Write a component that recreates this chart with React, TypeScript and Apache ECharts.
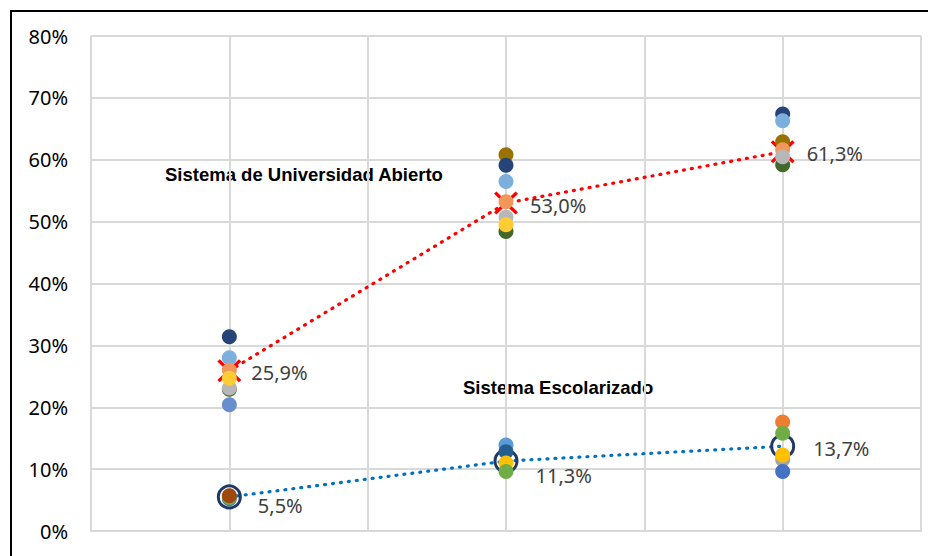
import React, { useEffect, useRef } from "react";
import * as echarts from "echarts";

// Category positions (three groups along the x axis)
const xPos = [1, 2, 3];

// Averages
const suaMean = [0.259, 0.53, 0.613];
const seMean = [0.055, 0.113, 0.137];

// Sistema de Universidad Abierto – individual points (null = hidden / not visible)
const suaDarkGold = [null, 0.608, 0.629];
const suaDarkBlue = [0.314, 0.591, 0.674];
const suaDarkGreen = [0.229, 0.484, 0.592];
const suaBlue = [0.204, null, null];
const suaLightBlue = [0.28, 0.565, 0.663];
const suaOrange = [0.26, 0.532, 0.616];
const suaGray = [0.231, 0.507, 0.605];
const suaYellow = [0.247, 0.495, null];

// Sistema Escolarizado – individual points
const seGray = [null, null, 0.115];
const seOrange = [null, null, 0.176];
const seLightBlue = [null, 0.139, null];
const seDarkBlue = [null, 0.128, null];
const seYellow = [null, 0.11, 0.123];
const seBlue = [0.052, null, 0.096];
const seGreen = [0.054, 0.096, 0.158];
const seBrown = [0.057, null, null];

// Y tick values
const yMin = 0;
const yMax = 0.8;
const yStep = 0.1;

const suaSeries: [string, (number | null)[], string][] = [
  ["SUA A", suaDarkGold, "#997300"],
  ["SUA B", suaDarkBlue, "#264478"],
  ["SUA C", suaDarkGreen, "#43682B"],
  ["SUA D", suaBlue, "#698ED0"],
  ["SUA E", suaLightBlue, "#7CAFDD"],
  ["SUA F", suaOrange, "#F1975A"],
  ["SUA G", suaGray, "#B7B7B7"],
  ["SUA H", suaYellow, "#FFCD33"],
];
const seSeries: [string, (number | null)[], string][] = [
  ["SE A", seGray, "#A5A5A5"],
  ["SE B", seOrange, "#ED7D31"],
  ["SE C", seLightBlue, "#5B9BD5"],
  ["SE D", seDarkBlue, "#255E91"],
  ["SE E", seYellow, "#FFC000"],
  ["SE F", seBlue, "#4472C4"],
  ["SE G", seGreen, "#70AD47"],
  ["SE H", seBrown, "#9E480E"],
];

const suaLabelOffsets = [
  [10, 2],
  [12, 2],
  [12, 2],
];
const seLabelOffsets = [
  [16, 9],
  [17, 14],
  [18, 2],
];

const fmtPct = (v: number) => (v * 100).toFixed(1).replace(".", ",") + "%";

const X_PATH =
  "path://M2,0 L10,8 L18,0 L20,2 L12,10 L20,18 L18,20 L10,12 L2,20 L0,18 L8,10 L0,2 Z";

function buildOption() {
  const pts = (vals: (number | null)[]) =>
    xPos
      .map((x, i) => (vals[i] == null ? null : [x, vals[i]]))
      .filter((d) => d != null);

  const labelBase = {
    show: true,
    position: "right" as const,
    distance: 0,
    color: "#404040",
    fontSize: 20,
    fontFamily: "Noto Sans",
    formatter: (p: any) => fmtPct(p.value[1]),
  };

  const meanLine = (
    name: string,
    vals: number[],
    lineColor: string,
    symbol: string,
    symbolSize: any,
    itemStyle: any,
    offsets: number[][]
  ) => ({
    name,
    type: "line",
    data: xPos.map((x, i) => ({
      value: [x, vals[i]],
      label: { offset: offsets[i] },
    })),
    symbol,
    symbolSize,
    showSymbol: true,
    lineStyle: { color: lineColor, width: 3.2, type: [1, 7], cap: "round" },
    itemStyle,
    label: labelBase,
    z: 2,
  });

  const scatter = ([name, vals, color]: [string, (number | null)[], string]) => ({
    name,
    type: "scatter",
    data: pts(vals),
    symbol: "circle",
    symbolSize: 15,
    itemStyle: { color, opacity: 1 },
    z: 3,
  });

  return {
    animation: false,
    backgroundColor: "#ffffff",
    grid: { left: 91, right: 7, top: 36, bottom: 25 },
    xAxis: {
      type: "value",
      min: 0.5,
      max: 3.5,
      interval: 0.5,
      axisLabel: { show: false },
      axisTick: { show: false },
      axisLine: { show: true, lineStyle: { color: "#D9D9D9", width: 2 } },
      splitLine: { show: true, lineStyle: { color: "#D9D9D9", width: 2 } },
    },
    yAxis: {
      type: "value",
      min: yMin,
      max: yMax,
      interval: yStep,
      axisLabel: {
        color: "#000000",
        fontSize: 20,
        fontFamily: "Noto Sans",
        margin: 23,
        formatter: (v: number) => Math.round(v * 100) + "%",
      },
      axisTick: { show: false },
      axisLine: { show: true, lineStyle: { color: "#D9D9D9", width: 2 } },
      splitLine: { show: true, lineStyle: { color: "#D9D9D9", width: 2 } },
    },
    graphic: [
      {
        type: "rect",
        silent: true,
        shape: { x: 11, y: 11, width: 1000, height: 1000 },
        style: { fill: "none", stroke: "#000000", lineWidth: 2 },
        z: 100,
      },
      {
        type: "text",
        left: 165,
        top: 165,
        style: {
          text: "Sistema de Universidad Abierto",
          fontFamily: "Liberation Sans",
          fontWeight: "bold",
          fontSize: 18.5,
          fill: "#000000",
        },
      },
      {
        type: "text",
        left: 463,
        top: 378,
        style: {
          text: "Sistema Escolarizado",
          fontFamily: "Liberation Sans",
          fontWeight: "bold",
          fontSize: 18.5,
          fill: "#000000",
        },
      },
    ],
    series: [
      meanLine(
        "Promedio SUA",
        suaMean,
        "#FF0000",
        X_PATH,
        [24, 23],
        { color: "#FF0000" },
        suaLabelOffsets
      ),
      meanLine(
        "Promedio SE",
        seMean,
        "#0070C0",
        "circle",
        22,
        { color: "rgba(0,0,0,0)", borderColor: "#1F3864", borderWidth: 3 },
        seLabelOffsets
      ),
      ...suaSeries.map(scatter),
      ...seSeries.map(scatter),
    ],
  };
}

export default function App() {
  const ref = useRef<HTMLDivElement>(null);
  useEffect(() => {
    if (!ref.current) return;
    const chart = echarts.init(ref.current, null, { renderer: "svg" });
    chart.setOption(buildOption() as any);
    return () => chart.dispose();
  }, []);
  return (
    <div
      ref={ref}
      style={{ position: "fixed", left: 0, top: 0, width: 928, height: 556, background: "#fff" }}
    />
  );
}
